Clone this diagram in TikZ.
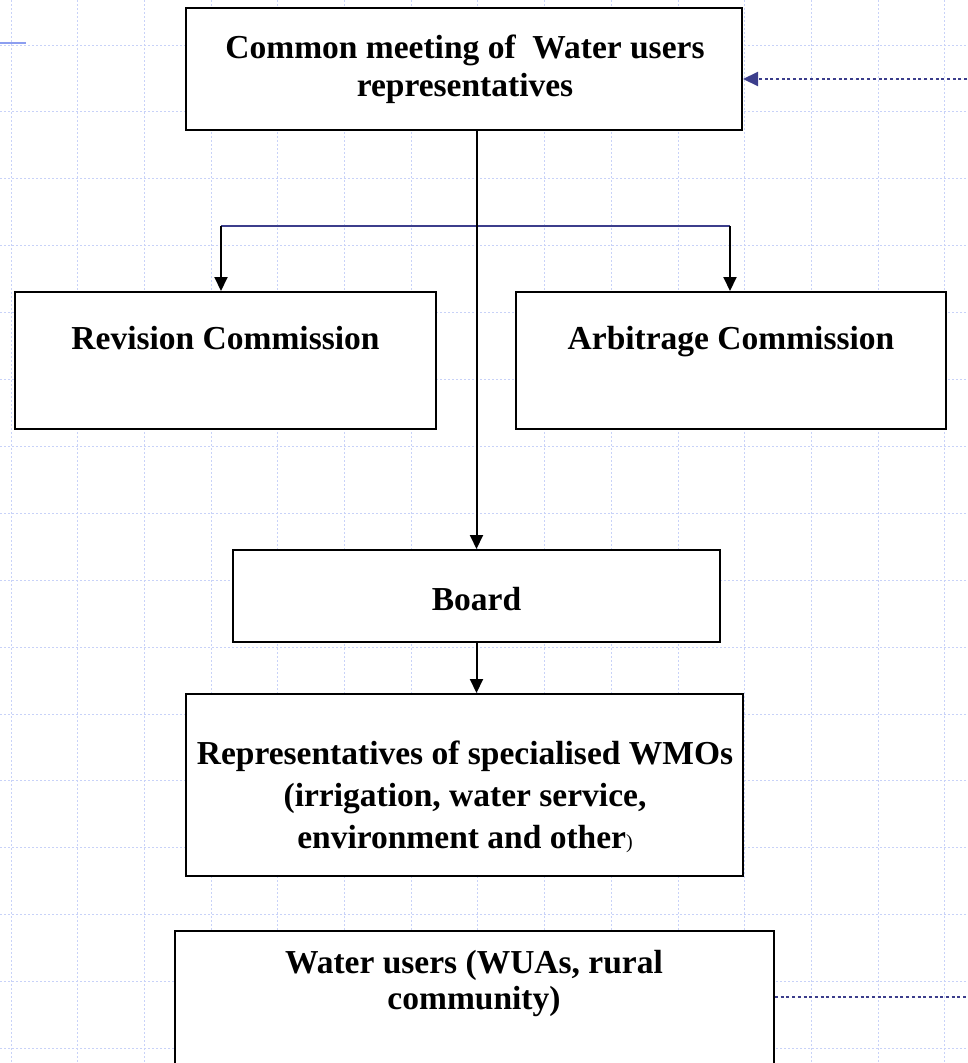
\documentclass[tikz,border=0pt]{standalone}
\usepackage{fontspec}
\setmainfont{Liberation Serif}
\usetikzlibrary{arrows.meta}
\definecolor{gridblue}{RGB}{200,210,248}
\definecolor{linkblue}{RGB}{60,62,140}
\definecolor{tickblue}{RGB}{140,158,240}

\begin{document}
\begin{tikzpicture}[x=1pt,y=-1pt,
    box/.style={draw,line width=2pt,fill=white,inner sep=0pt},
    lbl/.style={font=\bfseries\fontsize{33.5}{42}\selectfont,align=center,inner sep=0pt},
    arr/.style={line width=2pt,-{Triangle[width=13pt,length=14pt]}},
    feedback/.style={linkblue,line width=2.2pt,dash pattern=on 3pt off 2.7pt}]
  \useasboundingbox (0,0) rectangle (967,1063);
  % background grid
  \foreach \i in {0,...,14}
    \draw[gridblue,line width=1pt,dash pattern=on 2pt off 2pt] (11+66.7*\i,0) -- (11+66.7*\i,1063);
  \foreach \j in {0,...,15}
    \draw[gridblue,line width=1pt,dash pattern=on 2pt off 2pt] (0,45+66.9*\j) -- (967,45+66.9*\j);
  \draw[tickblue,line width=2.5pt] (0,43) -- (26,43);
  % boxes
  \node[box,minimum width=556pt,minimum height=122pt] (meeting) at (464,69) {};
  \node[box,minimum width=421pt,minimum height=137pt] (revision) at (225.5,360.5) {};
  \node[box,minimum width=430pt,minimum height=137pt] (arbitrage) at (731,360.5) {};
  \node[box,minimum width=487pt,minimum height=92pt] (board) at (476.5,596) {};
  \node[box,minimum width=557pt,minimum height=182pt] (reps) at (464.5,785) {};
  \node[box,minimum width=599pt,minimum height=160pt] (users) at (474.5,1011) {};
  % texts
  \node[lbl,font=\bfseries\fontsize{33.5}{38}\selectfont] (meetingtxt) at (465,69) {Common meeting of \ Water users\\representatives};
  \node[lbl,anchor=base] (revisiontxt) at (225.5,349) {Revision Commission};
  \node[lbl,anchor=base] (arbitragetxt) at (731,349) {Arbitrage Commission};
  \node[lbl,anchor=base] (boardtxt) at (476.5,610) {Board};
  \node[lbl] (repstxt) at (465,797) {Representatives of specialised WMOs\\(irrigation, water service,\\environment and other{\mdseries\fontsize{20}{20}\selectfont)}};
  \node[lbl,anchor=north,font=\bfseries\fontsize{33.5}{36}\selectfont] (userstxt) at (474,950) {Water users (WUAs, rural\\community)};
  % links from the common meeting
  \coordinate (splitL) at (221,226);
  \coordinate (splitR) at (730,226);
  \draw[linkblue,line width=2.4pt] (splitL) -- (splitR);
  \draw[arr] (splitL) -- (splitL |- revision.north);
  \draw[arr] (splitR) -- (splitR |- arbitrage.north);
  \draw[arr] (board.north |- meeting.south) -- (board.north);
  \draw[arr] (board.south) -- (board.south |- reps.north);
  % feedback from water users
  \coordinate (fbin) at (967,79);
  \coordinate (fbout) at (967,997);
  \draw[feedback,-{Triangle[width=14pt,length=15pt]}] (fbin) -- (meeting.east |- fbin);
  \draw[feedback] (users.east |- fbout) -- (fbout);
\end{tikzpicture}
\end{document}
